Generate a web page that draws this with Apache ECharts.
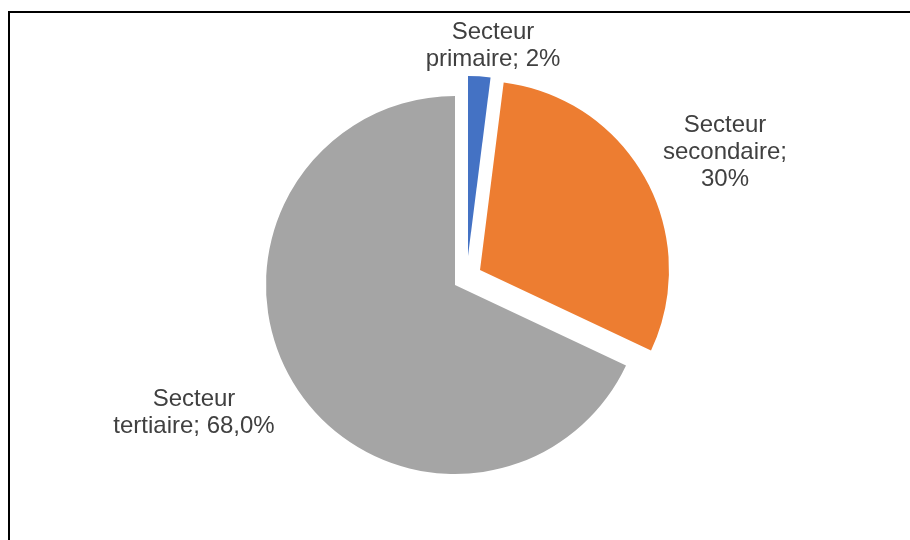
<!DOCTYPE html>
<html>
<head>
<meta charset="utf-8">
<script src="https://cdn.jsdelivr.net/npm/echarts@6/dist/echarts.min.js"></script>
<style>
  html, body { margin: 0; padding: 0; background: #fff; }
  #frame { position: absolute; left: 8px; top: 11px; width: 920px; height: 540px;
           border-top: 2px solid #000; border-left: 2px solid #000; }
  #chart { position: absolute; left: 0; top: 0; width: 910px; height: 540px; }
</style>
</head>
<body>
<div id="frame"></div>
<div id="chart"></div>
<script>
const categories = ['Secteur primaire', 'Secteur secondaire', 'Secteur tertiaire'];
const values = [2, 30, 68];
const labelTexts = ['Secteur\nprimaire; 2%', 'Secteur\nsecondaire;\n30%', 'Secteur\ntertiaire; 68,0%'];
const colors = ['#4472C4', '#ED7D31', '#A5A5A5'];

// layout (not data)
const centers = [[468, 256], [480, 270], [455, 285]];
const radii = [180, 189, 189];
const labelPos = [[493, 46], [725, 152], [194, 413]];

const chart = echarts.init(document.getElementById('chart'), null, { renderer: 'canvas' });

const series = categories.map((c, k) => ({
  type: 'pie',
  center: centers[k],
  radius: radii[k],
  startAngle: 90,
  clockwise: true,
  animation: false,
  silent: true,
  labelLine: { show: false },
  labelLayout: function (p) {
    return { x: labelPos[k][0], y: labelPos[k][1], align: 'center', verticalAlign: 'middle' };
  },
  data: categories.map((name, i) => ({
    name: name,
    value: values[i],
    itemStyle: { color: i === k ? colors[i] : 'rgba(0,0,0,0)' },
    label: {
      show: i === k,
      formatter: labelTexts[i],
      fontFamily: 'Liberation Sans, Arial, sans-serif',
      fontSize: 24,
      lineHeight: 27,
      color: '#404040',
      align: 'center'
    }
  }))
}));

chart.setOption({
  backgroundColor: 'transparent',
  series: series
});
</script>
</body>
</html>
